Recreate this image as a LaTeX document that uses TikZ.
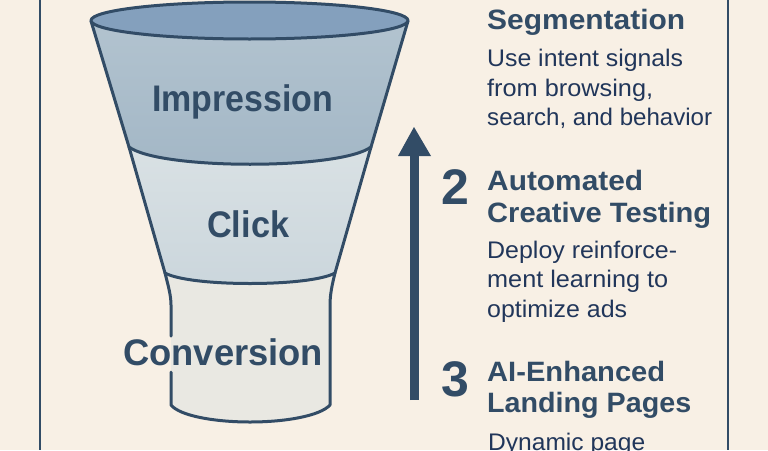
\documentclass[tikz,border=0pt]{standalone}
\usepackage{fontspec}
\setmainfont{Liberation Sans}
\definecolor{bgc}{HTML}{F8F0E5}
\definecolor{ink}{HTML}{324C66}
\definecolor{bodyink}{HTML}{21365A}
\definecolor{rimc}{HTML}{84A0BD}
\definecolor{impt}{HTML}{B2C3CF}
\definecolor{impb}{HTML}{A3B7C6}
\definecolor{clkt}{HTML}{D9E1E4}
\definecolor{clkb}{HTML}{CBD6DC}
\definecolor{cnv}{HTML}{E9E8E2}
\newcommand{\fs}[1]{\fontsize{#1}{#1}\selectfont}
\newcommand{\fw}[2]{\resizebox{#1pt}{\height}{#2}}
\tikzset{
  x=1pt,y=-1pt,
  outl/.style={draw=ink,line width=3pt,line join=round,line cap=round},
  frameline/.style={draw=ink,line width=2.4pt},
  stagelabel/.style={text=ink,inner sep=0pt,anchor=base west},
  headtxt/.style={text=ink,font=\bfseries\fs{28},inner sep=0pt,anchor=base west},
  bodytxt/.style={text=bodyink,font=\fs{24},inner sep=0pt,anchor=base west},
  numtxt/.style={text=ink,font=\bfseries\fs{50},inner sep=0pt,anchor=base west},
}
\begin{document}
\begin{tikzpicture}
\useasboundingbox (0,0) rectangle (768,450);
\fill[bgc] (0,0) rectangle (768,450);
\coordinate (fa) at (40,0); \coordinate (fb) at (40,450);
\coordinate (fc) at (728,0); \coordinate (fd) at (728,450);
\draw[frameline] (fa) -- (fb);
\draw[frameline] (fc) -- (fd);
% conversion
\fill[cnv] (165,273) .. controls (168,285) and (171,295) .. (171,305) -- (171,405) .. controls (180,416) and (215,422) .. (250,422) .. controls (285,422) and (320,416) .. (330,405) -- (330,305) .. controls (330,295) and (332,285) .. (335,273) -- cycle;
\draw[outl] (165,273) .. controls (168,285) and (171,295) .. (171,305) -- (171,336);
\draw[outl] (171,372) -- (171,405) .. controls (180,416) and (215,422) .. (250,422) .. controls (285,422) and (320,416) .. (330,405) -- (330,305) .. controls (330,295) and (332,285) .. (335,273);
% click
\fill[top color=clkt,bottom color=clkb] (129,147) -- (165,273) .. controls (190,287) and (310,287) .. (335,273) -- (371,147) .. controls (340,170) and (160,170) .. (129,147) -- cycle;
\draw[outl] (129,147) -- (165,273) .. controls (190,287) and (310,287) .. (335,273) -- (371,147);
% impression
\fill[top color=impt,bottom color=impb] (91,21) -- (129,147) .. controls (160,170) and (340,170) .. (371,147) -- (408,21) -- cycle;
\draw[outl] (91,21) -- (129,147) .. controls (160,170) and (340,170) .. (371,147) -- (408,21);
% rim
\draw[outl,fill=rimc] (249.5,20.5) ellipse [x radius=158.5, y radius=18.5];
% stage labels
\node[stagelabel,font=\bfseries\fs{37}] (nimp) at (152,111) {\fw{181}{Impression}};
\node[stagelabel,font=\bfseries\fs{37}] (nclk) at (207,237) {\fw{82}{Click}};
\node[stagelabel,font=\bfseries\fs{37}] (ncnv) at (123,365) {\fw{200}{Conversion}};
% arrow
\coordinate (as) at (414,400);
\coordinate (ae) at (414,127);
\draw[ink,line width=9pt] (as) -- (414,155);
\fill[ink] (ae) -- (431,156) -- (398,156) -- cycle;
% right column
\node[headtxt] (h1) at (487,29) {\fw{198}{Segmentation}};
\node[bodytxt] (b1a) at (487,66) {\fw{196}{Use intent signals}};
\node[bodytxt] (b1b) at (487,96) {\fw{166}{from browsing,}};
\node[bodytxt] (b1c) at (487,125) {\fw{225}{search, and behavior}};
\node[numtxt] (n2) at (441,204) {2};
\node[headtxt] (h2a) at (487,190) {\fw{156}{Automated}};
\node[headtxt] (h2b) at (487,222) {\fw{224}{Creative Testing}};
\node[bodytxt] (b2a) at (487,258) {\fw{190}{Deploy reinforce-}};
\node[bodytxt] (b2b) at (487,287) {\fw{181}{ment learning to}};
\node[bodytxt] (b2c) at (487,317) {\fw{140}{optimize ads}};
\node[numtxt] (n3) at (441,396) {3};
\node[headtxt] (h3a) at (487,381) {\fw{178}{AI-Enhanced}};
\node[headtxt] (h3b) at (487,412) {\fw{204}{Landing Pages}};
\node[bodytxt] (b3a) at (488,450) {\fw{157}{Dynamic page}};
\end{tikzpicture}
\end{document}
